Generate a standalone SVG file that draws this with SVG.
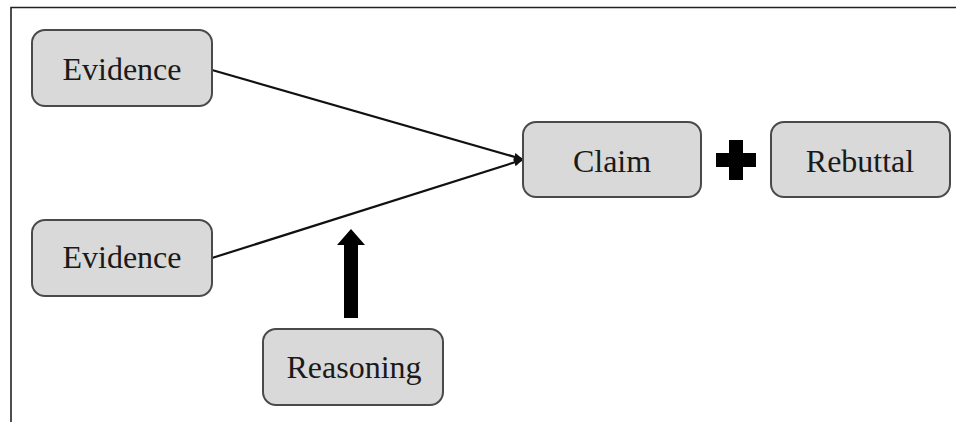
<svg xmlns="http://www.w3.org/2000/svg" width="956" height="422" viewBox="0 0 956 422">
  <style>
    .box { fill: #d9d9d9; stroke: #4a4a4a; stroke-width: 2; }
    .lbl { font-family: "Liberation Serif", "Times New Roman", serif; font-size: 32px; fill: #1a1a1a; text-anchor: middle; }
    .conn { stroke: #111; stroke-width: 2.2; fill: none; }
  </style>
  <defs>
    <marker id="arr" markerWidth="10" markerHeight="10" refX="8" refY="5" orient="auto" markerUnits="userSpaceOnUse">
      <path d="M0,1 L9,5 L0,9 Z" fill="#111"/>
    </marker>
  </defs>
  <rect x="0" y="0" width="956" height="422" fill="#fff"/>
  <g id="frame">
    <path d="M11,422 L11,7.5 L956,7.5" fill="none" stroke="#222" stroke-width="1.6"/>
  </g>
  <g id="connectors">
    <line class="conn" x1="212" y1="70" x2="522" y2="159" marker-end="url(#arr)"/>
    <line class="conn" x1="212" y1="258" x2="522" y2="160" marker-end="url(#arr)"/>
    <path d="M344,318 L344,245 L337,245 L351,229 L365,245 L358,245 L358,318 Z" fill="#000"/>
    <path d="M729,140 L743,140 L743,153 L756,153 L756,167 L743,167 L743,180 L729,180 L729,167 L716,167 L716,153 L729,153 Z" fill="#000"/>
  </g>
  <g id="evidence1">
    <rect class="box" x="32" y="30" width="180" height="76" rx="13"/>
    <text class="lbl" x="122" y="80">Evidence</text>
  </g>
  <g id="evidence2">
    <rect class="box" x="32" y="220" width="180" height="76" rx="13"/>
    <text class="lbl" x="122" y="268">Evidence</text>
  </g>
  <g id="claim">
    <rect class="box" x="523" y="122" width="178" height="75" rx="13"/>
    <text class="lbl" x="612" y="172">Claim</text>
  </g>
  <g id="rebuttal">
    <rect class="box" x="771" y="122" width="179" height="75" rx="13"/>
    <text class="lbl" x="860" y="172">Rebuttal</text>
  </g>
  <g id="reasoning">
    <rect class="box" x="263" y="329" width="180" height="76" rx="13"/>
    <text class="lbl" x="354" y="378">Reasoning</text>
  </g>
</svg>
